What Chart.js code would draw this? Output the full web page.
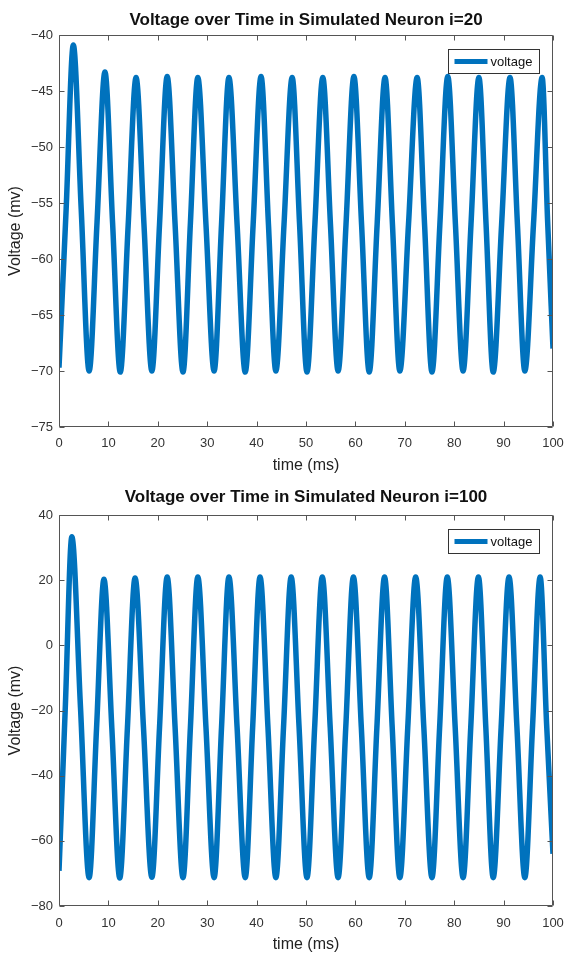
<!DOCTYPE html>
<html>
<head>
<meta charset="utf-8">
<script src="https://cdn.jsdelivr.net/npm/chart.js@4/dist/chart.umd.min.js"></script>
<style>
  body { margin: 0; background: #fff; }
  .plot { position: absolute; left: 0; width: 568px; height: 477px; }
</style>
</head>
<body>
<div class="plot" style="top:0"><canvas id="top-chart"></canvas></div>
<div class="plot" style="top:477px"><canvas id="bottom-chart"></canvas></div>
<script>
// i=20 run: troughs, mid crossings and peaks
const timeTop = [0, 1.45, 2.9, 4.5, 6.1, 7.7, 9.3, 10.85, 12.4, 14.0, 15.6, 17.2, 18.8, 20.35, 21.9, 23.5,
    25.1, 26.6, 28.1, 29.75, 31.4, 32.9, 34.4, 36.05, 37.7, 39.3, 40.9, 42.4, 43.9, 45.55, 47.2, 48.7,
    50.2, 51.8, 53.4, 54.95, 56.5, 58.1, 59.7, 61.25, 62.8, 64.4, 66.0, 67.5, 69.0, 70.75, 72.5, 74.0,
    75.5, 77.1, 78.7, 80.25, 81.8, 83.4, 85.0, 86.45, 87.9, 89.6, 91.3, 92.8, 94.3, 96.05, 97.8, 98.9, 100];
const voltTop = [-69.7, -55.5, -40.9, -55.6, -70.0, -56.7, -43.3, -56.8, -70.1, -57.0, -43.8, -56.9, -70.0, -56.9, -43.7, -56.9,
    -70.1, -56.8, -43.8, -56.9, -70.0, -56.9, -43.8, -56.9, -70.1, -56.9, -43.7, -56.9, -70.0, -56.9, -43.8, -56.9,
    -70.1, -56.9, -43.8, -56.9, -70.0, -56.9, -43.7, -56.9, -70.1, -56.9, -43.8, -56.9, -70.0, -56.9, -43.8, -56.9,
    -70.1, -56.9, -43.7, -56.9, -70.0, -56.9, -43.8, -56.9, -70.1, -56.9, -43.8, -56.9, -70.0, -56.9, -43.8, -56.5, -68.0];

// i=100 run
const timeBottom = [0, 1.3, 2.6, 4.35, 6.1, 7.6, 9.1, 10.7, 12.3, 13.85, 15.4, 17.1, 18.8, 20.35, 21.9, 23.5,
    25.1, 26.6, 28.1, 29.75, 31.4, 32.9, 34.4, 36.05, 37.7, 39.2, 40.7, 42.3, 43.9, 45.45, 47.0, 48.6,
    50.2, 51.75, 53.3, 54.9, 56.5, 58.05, 59.6, 61.2, 62.8, 64.35, 65.9, 67.45, 69.0, 70.6, 72.2, 73.85,
    75.5, 77.05, 78.6, 80.2, 81.8, 83.35, 84.9, 86.4, 87.9, 89.5, 91.1, 92.7, 94.3, 95.85, 97.4, 98.7, 100];
const voltBottom = [-69.2, -18.0, 33.3, -19.0, -71.3, -25.5, 20.3, -25.5, -71.4, -25.3, 20.7, -25.2, -71.2, -25.2, 21.0, -25.2,
    -71.3, -25.2, 21.0, -25.2, -71.3, -25.2, 21.0, -25.2, -71.3, -25.2, 21.0, -25.2, -71.3, -25.2, 21.0, -25.2,
    -71.3, -25.2, 21.0, -25.2, -71.3, -25.2, 21.0, -25.2, -71.3, -25.2, 21.0, -25.2, -71.3, -25.2, 21.0, -25.2,
    -71.3, -25.2, 21.0, -25.2, -71.3, -25.2, 21.0, -25.2, -71.3, -25.2, 21.0, -25.2, -71.3, -25.2, 21.0, -24.0, -64.0];

const timeTicks = [0, 10, 20, 30, 40, 50, 60, 70, 80, 90, 100];
const yTicksTop = [-75, -70, -65, -60, -55, -50, -45, -40];
const yTicksBottom = [-80, -60, -40, -20, 0, 20, 40];

const lineColor = '#0072bd';
const axisColor = '#555555';
const textColor = '#333333';
const fontFamily = 'Arial, "Liberation Sans", Helvetica, sans-serif';

// MATLAB style box with inward ticks on all four sides, plus a legend inside the axes
const matlabBox = {
    id: 'matlabBox',
    afterDatasetsDraw(chart) {
        const { ctx, chartArea: a, scales: { x, y } } = chart;
        const l = Math.round(a.left) + 0.5, r = Math.round(a.right) - 0.5;
        const t = Math.round(a.top) + 0.5, b = Math.round(a.bottom) - 0.5;
        ctx.save();
        ctx.strokeStyle = axisColor;
        ctx.lineWidth = 1;
        ctx.beginPath();
        ctx.rect(l, t, r - l, b - t);
        x.ticks.forEach(tk => {
            const px = Math.round(x.getPixelForValue(tk.value)) + 0.5;
            ctx.moveTo(px, b); ctx.lineTo(px, b - 5);
            ctx.moveTo(px, t); ctx.lineTo(px, t + 5);
        });
        y.ticks.forEach(tk => {
            const py = Math.round(y.getPixelForValue(tk.value)) + 0.5;
            ctx.moveTo(l, py); ctx.lineTo(l + 5, py);
            ctx.moveTo(r, py); ctx.lineTo(r - 5, py);
        });
        ctx.stroke();

        // legend
        const ds = chart.data.datasets[0];
        const w = 91, h = 24;
        const bx = Math.round(a.right) - 14 - w + 0.5;
        const by = Math.round(a.top) + 14 + 0.5;
        ctx.fillStyle = '#ffffff';
        ctx.fillRect(bx, by, w, h);
        ctx.strokeStyle = '#333333';
        ctx.strokeRect(bx, by, w, h);
        ctx.strokeStyle = ds.borderColor;
        ctx.lineWidth = 5;
        ctx.beginPath();
        ctx.moveTo(bx + 6, by + h / 2);
        ctx.lineTo(bx + 39, by + h / 2);
        ctx.stroke();
        ctx.fillStyle = '#111111';
        ctx.font = '13px ' + fontFamily;
        ctx.textBaseline = 'middle';
        ctx.fillText(ds.label, bx + 42, by + h / 2 + 1);
        ctx.restore();
    }
};

const minusSign = v => String(v).replace('-', '\u2212');

function makeChart(id, title, times, volts, yTicks, pad) {
    const points = times.map((t, i) => ({ x: t, y: volts[i] }));
    return new Chart(document.getElementById(id), {
        type: 'line',
        data: {
            datasets: [{
                label: 'voltage',
                data: points,
                borderColor: lineColor,
                borderWidth: 5.5,
                pointRadius: 0,
                cubicInterpolationMode: 'monotone',
                fill: false
            }]
        },
        options: {
            responsive: true,
            maintainAspectRatio: false,
            animation: false,
            layout: { padding: { left: 0, right: 15, top: 0, bottom: 0 } },
            plugins: {
                legend: { display: false },
                tooltip: { enabled: false },
                title: {
                    display: true,
                    fullSize: false,
                    text: title,
                    color: '#111111',
                    font: { family: fontFamily, size: 17, weight: 'bold' },
                    padding: { top: pad.titleTop, bottom: pad.titleBottom }
                }
            },
            scales: {
                x: {
                    type: 'linear',
                    min: timeTicks[0],
                    max: timeTicks[timeTicks.length - 1],
                    afterBuildTicks: s => { s.ticks = timeTicks.map(v => ({ value: v })); },
                    afterFit: s => { s.height = pad.xHeight; s.paddingLeft = 0; s.paddingRight = 0; },
                    grid: { display: false, drawTicks: false },
                    border: { display: false },
                    ticks: { color: textColor, padding: pad.xTickPad, maxRotation: 0, font: { family: fontFamily, size: 13 } },
                    title: {
                        display: true,
                        text: 'time (ms)',
                        color: '#222222',
                        font: { family: fontFamily, size: 16 },
                        padding: { top: 0, bottom: pad.xTitleBottom }
                    }
                },
                y: {
                    type: 'linear',
                    min: yTicks[0],
                    max: yTicks[yTicks.length - 1],
                    afterBuildTicks: s => { s.ticks = yTicks.map(v => ({ value: v })); },
                    afterFit: s => { s.width = 59; },
                    grid: { display: false, drawTicks: false },
                    border: { display: false },
                    ticks: { color: textColor, padding: 6, font: { family: fontFamily, size: 13 }, callback: minusSign },
                    title: {
                        display: true,
                        text: 'Voltage (mv)',
                        color: '#222222',
                        font: { family: fontFamily, size: 16 },
                        padding: { top: 6, bottom: 0 }
                    }
                }
            }
        },
        plugins: [matlabBox]
    });
}

makeChart('top-chart', 'Voltage over Time in Simulated Neuron i=20', timeTop, voltTop, yTicksTop,
    { titleTop: 10, titleBottom: 4.6, xHeight: 50, xTickPad: 9, xTitleBottom: 1.4 });
makeChart('bottom-chart', 'Voltage over Time in Simulated Neuron i=100', timeBottom, voltBottom, yTicksBottom,
    { titleTop: 10, titleBottom: 7.6, xHeight: 48, xTickPad: 10, xTitleBottom: 0 });
</script>
</body>
</html>
